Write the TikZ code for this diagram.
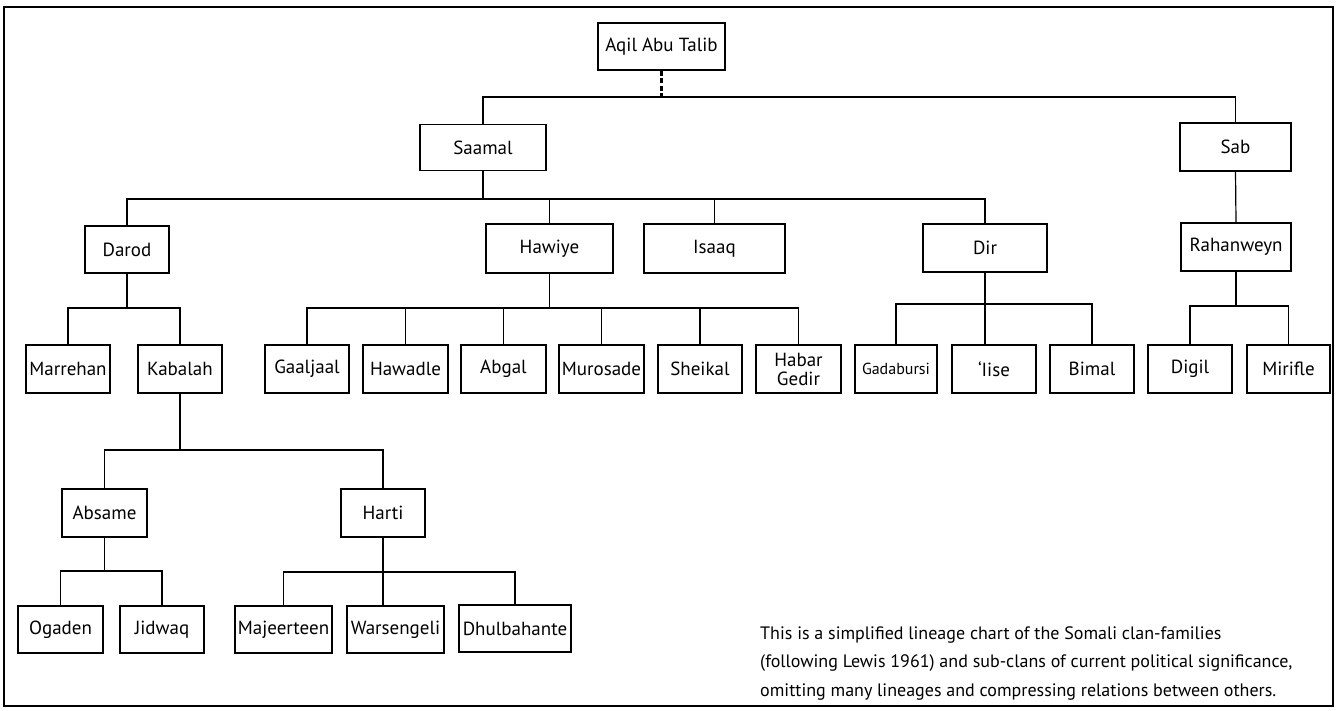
\documentclass[tikz,border=0pt]{standalone}
\usepackage{fontspec}
\setmainfont{PT Sans}
\begin{document}
\begin{tikzpicture}[x=1pt,y=-1pt,
  box/.style={draw, line width=1.2pt, inner sep=0pt, minimum height=48pt, align=center, font=\fontsize{19}{21}\selectfont},
  link/.style={line width=1.2pt},
  dashlink/.style={line width=2.6pt, dash pattern=on 5pt off 2.5pt}]
\useasboundingbox (0,0) rectangle (1341,711);
\draw[line width=1.8pt] (4,7) rectangle (1333,706);
% level 0
\node[box, minimum width=127pt, minimum height=47pt] (aqil) at (661.5,46.5) {Aqil Abu Talib};
% level 1
\node[box, minimum width=126pt, minimum height=46pt] (saamal) at (483,147.5) {Saamal};
\node[box, minimum width=111pt] (sab) at (1235.5,147) {Sab};
% level 2
\node[box, minimum width=84pt, minimum height=47pt] (darod) at (127,249.5) {Darod};
\node[box, minimum width=127pt, minimum height=49pt] (hawiye) at (549.5,248.5) {Hawiye};
\node[box, minimum width=141pt, minimum height=49pt] (isaaq) at (714.5,248.5) {Isaaq};
\node[box, minimum width=124pt] (dir) at (985,248) {Dir};
\node[box, minimum width=110pt] (rahan) at (1236,247) {Rahanweyn};
% level 3
\node[box, minimum width=84pt] (marrehan) at (68,369) {Marrehan};
\node[box, minimum width=84pt] (kabalah) at (180,369) {Kabalah};
\node[box, minimum width=84pt] (gaaljaal) at (307,369) {Gaaljaal};
\node[box, minimum width=85pt] (hawadle) at (405.5,369) {Hawadle};
\node[box, minimum width=85pt] (abgal) at (503.5,369) {Abgal};
\node[box, minimum width=85pt] (murosade) at (601.5,369) {Murosade};
\node[box, minimum width=84pt] (sheikal) at (700,369) {Sheikal};
\node[box, minimum width=85pt, font=\fontsize{19}{19}\selectfont] (habar) at (798.5,369) {Habar\\Gedir};
\node[box, minimum width=82pt, font=\fontsize{16}{18}\selectfont] (gadabursi) at (896,369) {Gadabursi};
\node[box, minimum width=84pt] (iise) at (994,369) {‘Iise};
\node[box, minimum width=84pt] (bimal) at (1092,369) {Bimal};
\node[box, minimum width=84pt] (digil) at (1190,369) {Digil};
\node[box, minimum width=83pt] (mirifle) at (1288.5,369) {Mirifle};
% level 4
\node[box, minimum width=85pt] (absame) at (104.5,513) {Absame};
\node[box, minimum width=84pt] (harti) at (383,513) {Harti};
% level 5
\node[box, minimum width=85pt, minimum height=47pt] (ogaden) at (60.5,629.5) {Ogaden};
\node[box, minimum width=84pt, minimum height=47pt] (jidwaq) at (162,629.5) {Jidwaq};
\node[box, minimum width=97pt, minimum height=47pt] (majeerteen) at (283.5,629.5) {Majeerteen};
\node[box, minimum width=97pt, minimum height=47pt] (warsengeli) at (395.5,629.5) {Warsengeli};
\node[box, minimum width=112pt, minimum height=47pt] (dhulbahante) at (515,628.5) {Dhulbahante};
% bar coordinates
\coordinate (barA) at (661.5,97);
\coordinate (barS) at (483,199);
\coordinate (barD) at (127,308);
\coordinate (barH) at (549.5,308);
\coordinate (barR) at (985,304);
\coordinate (barB) at (1236,306);
\coordinate (barK) at (180,450);
\coordinate (barAb) at (104.5,571);
\coordinate (barHa) at (383,572);
% connectors
\draw[dashlink] (aqil.south) -- (barA);
\draw[link] (saamal.north) |- (barA) -| (sab.north);
\draw[link] (saamal.south) -- (barS);
\draw[link] (darod.north) |- (barS) -| (dir.north);
\draw[link] (hawiye.north) -- (hawiye.north |- barS);
\draw[link] (isaaq.north) -- (isaaq.north |- barS);
\draw[link] (sab.south) -- (rahan.north);
% Darod
\draw[link] (darod.south) -- (barD);
\draw[link] (marrehan.north) |- (barD) -| (kabalah.north);
% Hawiye
\draw[link] (hawiye.south) -- (barH);
\draw[link] (gaaljaal.north) |- (barH) -| (habar.north);
\draw[link] (hawadle.north) -- (hawadle.north |- barH);
\draw[link] (abgal.north) -- (abgal.north |- barH);
\draw[link] (murosade.north) -- (murosade.north |- barH);
\draw[link] (sheikal.north) -- (sheikal.north |- barH);
% Dir
\draw[link] (dir.south) -- (dir.south |- iise.north);
\draw[link] (gadabursi.north) |- (barR) -| (bimal.north);
% Rahanweyn
\draw[link] (rahan.south) -- (barB);
\draw[link] (digil.north) |- (barB) -| (mirifle.north);
% Kabalah
\draw[link] (kabalah.south) -- (barK);
\draw[link] (absame.north) |- (barK) -| (harti.north);
% Absame
\draw[link] (absame.south) -- (barAb);
\draw[link] (ogaden.north) |- (barAb) -| (jidwaq.north);
% Harti
\draw[link] (harti.south) -- (harti.south |- warsengeli.north);
\draw[link] (majeerteen.north) |- (barHa) -| (dhulbahante.north);
% note
\node[anchor=north west, align=left, inner sep=0pt, font=\fontsize{18}{28.5}\selectfont] (note) at (760,626)
  {This is a simplified lineage chart of the Somali clan-families\\
   (following Lewis 1961) and sub-clans of current political significance,\\
   omitting many lineages and compressing relations between others.};
\end{tikzpicture}
\end{document}
